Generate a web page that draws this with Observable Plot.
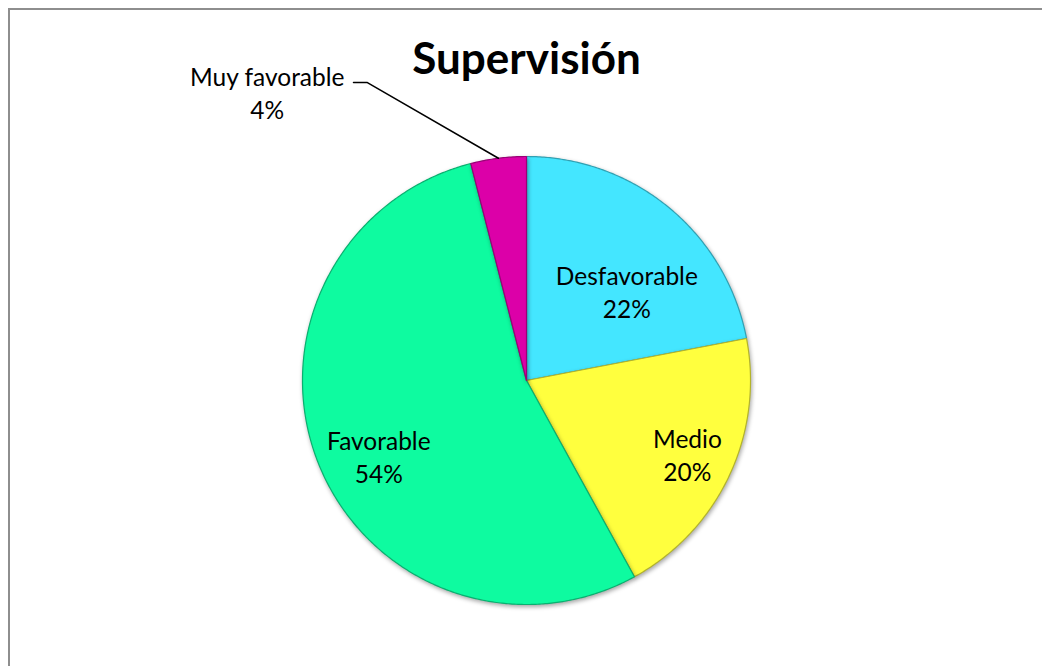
<!DOCTYPE html>
<html>
<head>
<meta charset="utf-8">
<script src="https://cdn.jsdelivr.net/npm/d3@7"></script>
<script src="https://cdn.jsdelivr.net/npm/@observablehq/plot@0.6"></script>
<style>
  html, body { margin: 0; padding: 0; background: #fff; }
  #frame { position: absolute; left: 0; top: 0; width: 1042px; height: 666px; overflow: hidden; }
  #border { position: absolute; left: 8px; top: 8px; width: 1100px; height: 700px;
            border-left: 2px solid #8e8e8e; border-top: 2px solid #8e8e8e; box-sizing: border-box; }
  #chart { position: absolute; left: 0; top: 0; }
</style>
</head>
<body>
<div id="frame"><div id="border"></div><div id="chart"></div></div>
<script>
const title = "Supervisión";
const categories = ["Desfavorable", "Medio", "Favorable", "Muy favorable"];
const values = [22, 20, 54, 4];
const percentLabels = ["22%", "20%", "54%", "4%"];
const colors = ["#44E6FF", "#FFFF3E", "#0EFBA0", "#DC00A8"];

// layout of the in-slice labels (radius as fraction of pie radius, angular shift in degrees)
const labelLayout = {
  "Desfavorable": {r: 0.6, da: 8.7},
  "Medio": {r: 0.79, da: -0.6},
  "Favorable": {r: 0.74, da: -5.4}
};

const rows = categories.map((c, i) => ({cat: c, value: values[i], pct: percentLabels[i], color: colors[i]}));
const arcs = d3.pie().sort(null).value(d => d.value)(rows);

function slicePoints(a) {
  const pts = [{x: 0, y: 0}];
  const n = Math.max(2, Math.ceil((a.endAngle - a.startAngle) / (Math.PI / 360)));
  for (let k = 0; k <= n; k++) {
    const t = a.startAngle + (a.endAngle - a.startAngle) * k / n;
    pts.push({x: Math.sin(t), y: Math.cos(t)});
  }
  pts.push({x: 0, y: 0});
  return pts;
}

const font = "Lato, 'Noto Sans', sans-serif";
const inside = [], outside = [];
arcs.forEach(a => {
  const mid = (a.startAngle + a.endAngle) / 2;
  const lay = labelLayout[a.data.cat];
  if (lay) {
    const t = mid + lay.da * Math.PI / 180;
    inside.push({x: lay.r * Math.sin(t), y: lay.r * Math.cos(t), text: a.data.cat + "\n" + a.data.pct});
  } else {
    const edge = {x: Math.sin(mid), y: Math.cos(mid)};
    const elbow = {x: edge.x - 0.585, y: edge.y + 0.338};
    const end = {x: elbow.x - 0.062, y: elbow.y};
    outside.push({leader: [edge, elbow, end], x: end.x - 0.385, y: end.y - 0.04, text: a.data.cat + "\n" + a.data.pct});
  }
});

const marks = [];
arcs.forEach(a => {
  marks.push(Plot.line(slicePoints(a), {
    x: "x", y: "y", curve: "linear",
    fill: a.data.color,
    stroke: d3.color(a.data.color).darker(1.0).formatHex(),
    strokeWidth: 1.2, strokeLinejoin: "round"
  }));
});
marks.push(Plot.text(inside, {x: "x", y: "y", text: "text", fontSize: 24.5, fill: "#000", lineHeight: 1.36, fontFamily: font}));
outside.forEach(o => {
  marks.push(Plot.line(o.leader, {x: "x", y: "y", stroke: "#000", strokeWidth: 1.5}));
});
marks.push(Plot.text(outside, {x: "x", y: "y", text: "text", fontSize: 24.5, fill: "#000", lineHeight: 1.36, fontFamily: font}));
marks.push(Plot.text([title], {frameAnchor: "top", dy: -83, text: d => d, fontSize: 44, fontWeight: "bold", fill: "#000", fontFamily: font, lineAnchor: "bottom"}));

const chart = Plot.plot({
  width: 1042, height: 666,
  marginLeft: 302, marginRight: 292, marginTop: 156, marginBottom: 62,
  x: {domain: [-1, 1], axis: null},
  y: {domain: [-1, 1], axis: null},
  style: {background: "transparent", overflow: "visible"},
  marks
});
d3.select(chart).selectAll('g[aria-label="line"]').filter((d, i) => i < 4)
  .style("filter", "drop-shadow(1px 2px 2px rgba(0,0,0,0.35))");
document.getElementById("chart").appendChild(chart);
</script>
</body>
</html>
